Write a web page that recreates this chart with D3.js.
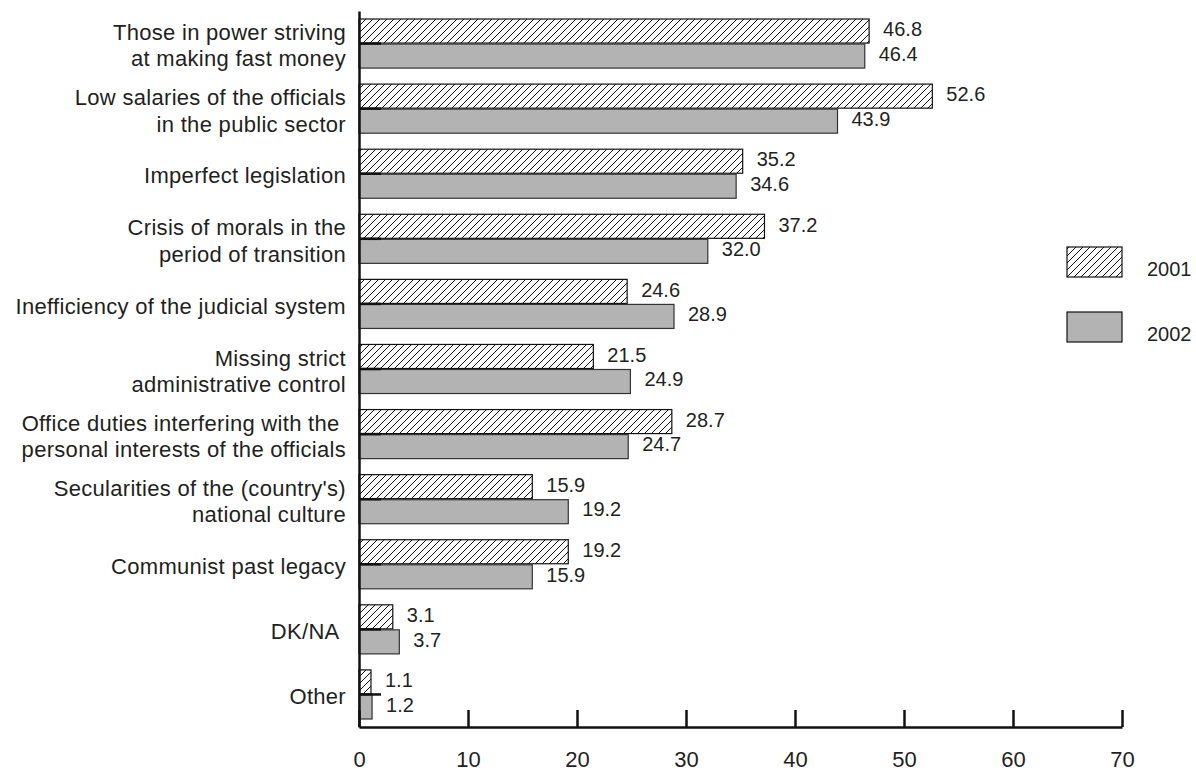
<!DOCTYPE html>
<html>
<head>
<script src='https://d3js.org/d3.v7.min.js'></script>
<title>Causes of corruption</title>
<style>
body {margin:0; background-color:white;}
text {font-family:'Liberation Sans', Arial, sans-serif; fill:#231f20;}
</style>
</head>
<body>
<svg width=1196 height=772></svg>

<script>
var categories = [['Those in power striving','at making fast money'],
                  ['Low salaries of the officials','in the public sector'],
                  ['Imperfect legislation'],
                  ['Crisis of morals in the','period of transition'],
                  ['Inefficiency of the judicial system'],
                  ['Missing strict','administrative control'],
                  ['Office duties interfering with the\u00a0','personal interests of the officials'],
                  ["Secularities of the (country's)",'national culture'],
                  ['Communist past legacy'],
                  ['DK/NA\u00a0'],
                  ['Other']]
var years = ['2001','2002']
var values2001 = [46.8,52.6,35.2,37.2,24.6,21.5,28.7,15.9,19.2,3.1,1.1]
var values2002 = [46.4,43.9,34.6,32.0,28.9,24.9,24.7,19.2,15.9,3.7,1.2]
var xTicks = [0,10,20,30,40,50,60,70]

var left = 359
var right = 1122
var top_ = 11
var bottom = 727
var grey = '#b3b3b3'

var svg = d3.select('svg')

//hatch pattern for 2001
var pat = svg.append('defs').append('pattern')
    .attr('id','hatch')
    .attr('patternUnits','userSpaceOnUse')
    .attr('width',7)
    .attr('height',7)
pat.append('rect').attr('width',7).attr('height',7).attr('fill','white')
pat.append('path')
    .attr('d','M-1,1 l2,-2 M0,7 l7,-7 M6,8 l2,-2')
    .attr('stroke','#111')
    .attr('stroke-width',1)

//scales
var ids = d3.range(categories.length)
var x = d3.scaleLinear().domain([0,70]).range([left,right])
var y = d3.scaleBand().domain(ids).range([top_,bottom]).paddingInner(0.246).paddingOuter(0.123)
var half = y.bandwidth()/2

//2001 bars
svg.append('g').selectAll('rect')
  .data(values2001)
  .enter()
  .append('rect')
    .attr('x',x(0))
    .attr('y',function(d,i) {return y(i);})
    .attr('width',function(d) {return x(d)-x(0);})
    .attr('height',half-0.5)
    .attr('fill','url(#hatch)')
    .attr('stroke','#111')
    .attr('stroke-width',1.2)

//2002 bars
svg.append('g').selectAll('rect')
  .data(values2002)
  .enter()
  .append('rect')
    .attr('x',x(0))
    .attr('y',function(d,i) {return y(i)+half+0.5;})
    .attr('width',function(d) {return x(d)-x(0);})
    .attr('height',half-0.5)
    .attr('fill',grey)
    .attr('stroke','#333')
    .attr('stroke-width',1.2)

//value labels
svg.append('g').selectAll('text')
  .data(values2001)
  .enter()
  .append('text')
    .attr('x',function(d) {return x(d)+14;})
    .attr('y',function(d,i) {return y(i)+half/2+5;})
    .style('font-size','20px')
    .text(function(d) {return d.toFixed(1);})

svg.append('g').selectAll('text')
  .data(values2002)
  .enter()
  .append('text')
    .attr('x',function(d) {return x(d)+14;})
    .attr('y',function(d,i) {return y(i)+half*1.5+5;})
    .style('font-size','20px')
    .text(function(d) {return d.toFixed(1);})

//category labels
var lab = svg.append('g').selectAll('text')
  .data(categories)
  .enter()
  .append('text')
    .attr('text-anchor','end')
    .attr('xml:space','preserve')
    .style('font-size','22px')
    .style('letter-spacing','0.3px')
    .attr('y',function(d,i) {return y(i)+half+2;})
lab.selectAll('tspan')
  .data(function(d) {return d.map(function(t,j) {return {t:t,j:j,n:d.length};});})
  .enter()
  .append('tspan')
    .attr('x',left-13)
    .attr('dy',function(d) {return d.j==0 ? (0.35-(d.n-1)*0.6)+'em' : '1.2em';})
    .text(function(d) {return d.t;})

//y axis with inside ticks
svg.append('g')
    .attr('transform','translate('+left+',0)')
    .call(d3.axisRight(y).tickSize(22).tickSizeOuter(0).tickFormat(''))
    .call(function(g) {
        g.selectAll('path,line').attr('stroke','#111').attr('stroke-width',2.5)
    })

//x axis
svg.append('g')
    .attr('transform','translate(0,'+bottom+')')
    .call(d3.axisBottom(x).tickValues(xTicks).tickSize(-17).tickSizeOuter(0).tickPadding(24))
    .call(function(g) {
        g.selectAll('path,line').attr('stroke','#111').attr('stroke-width',2.5)
        g.selectAll('text').style('font-size','22px').attr('fill','#231f20')
          .style('font-family',"'Liberation Sans', Arial, sans-serif")
    })

//legend
var legFill = ['url(#hatch)',grey]
var legY = [247,312]
years.forEach(function(yr,i) {
    svg.append('rect')
        .attr('x',1067)
        .attr('y',legY[i])
        .attr('width',55)
        .attr('height',30)
        .attr('fill',legFill[i])
        .attr('stroke','#111')
        .attr('stroke-width',1.2)
    svg.append('text')
        .attr('x',1147)
        .attr('y',legY[i]+29)
        .style('font-size','20px')
        .text(yr)
})
</script>

</body>
</html>
